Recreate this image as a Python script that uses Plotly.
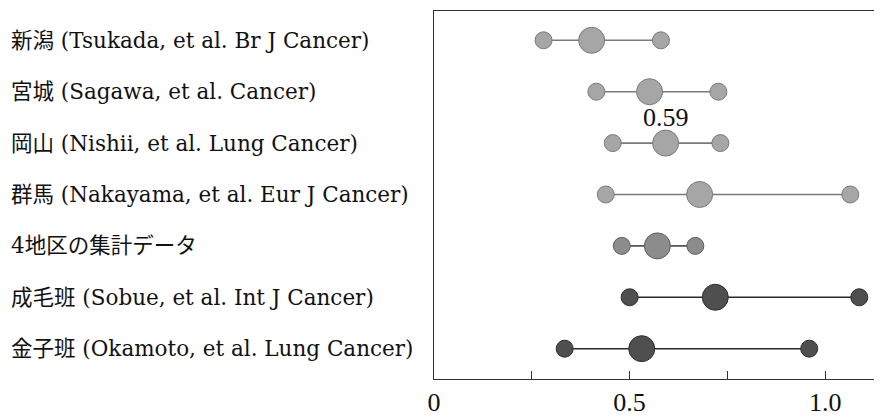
import plotly.graph_objects as go

labels = [
    "新潟 (Tsukada, et al. Br J Cancer)",
    "宮城 (Sagawa, et al. Cancer)",
    "岡山 (Nishii, et al. Lung Cancer)",
    "群馬 (Nakayama, et al. Eur J Cancer)",
    "4地区の集計データ",
    "成毛班 (Sobue, et al. Int J Cancer)",
    "金子班 (Okamoto, et al. Lung Cancer)",
]
lower = [0.28, 0.415, 0.457, 0.439, 0.48, 0.50, 0.334]
point = [0.403, 0.551, 0.592, 0.679, 0.571, 0.719, 0.531]
upper = [0.58, 0.727, 0.732, 1.064, 0.668, 1.087, 0.959]
fill_colors = ["#a6a6a6", "#a6a6a6", "#a6a6a6", "#a6a6a6", "#8c8c8c", "#4f4f4f", "#4f4f4f"]
edge_colors = ["#7a7a7a", "#7a7a7a", "#7a7a7a", "#7a7a7a", "#5e5e5e", "#2e2e2e", "#2e2e2e"]
line_colors = ["#7a7a7a", "#7a7a7a", "#7a7a7a", "#7a7a7a", "#555555", "#2a2a2a", "#2a2a2a"]
highlight_row = 2
highlight_text = "0.59"

tick_vals = [0, 0.25, 0.5, 0.75, 1.0]
tick_text = ["0", "", "0.5", "", "1.0"]

n = len(labels)
ys = [n - i for i in range(n)]

fig = go.Figure()
LABEL_FONT = "DejaVu Serif, Noto Sans CJK JP, serif"
NUM_FONT = "Liberation Serif, Times New Roman, serif"

for i in range(n):
    fig.add_trace(go.Scatter(
        x=[lower[i], upper[i]], y=[ys[i], ys[i]], mode="lines",
        line=dict(color=line_colors[i], width=1.6), showlegend=False, hoverinfo="skip"))
    fig.add_trace(go.Scatter(
        x=[lower[i], upper[i]], y=[ys[i], ys[i]], mode="markers",
        marker=dict(size=17, color=fill_colors[i], line=dict(color=edge_colors[i], width=1)),
        showlegend=False))
    fig.add_trace(go.Scatter(
        x=[point[i]], y=[ys[i]], mode="markers",
        marker=dict(size=26, color=fill_colors[i], line=dict(color=edge_colors[i], width=1)),
        showlegend=False))
    fig.add_annotation(
        x=-0.953, xref="paper", y=ys[i], yref="y", text=labels[i],
        showarrow=False, xanchor="left", yanchor="middle",
        font=dict(family=LABEL_FONT, size=21.5, color="#111111"))

fig.add_annotation(
    x=point[highlight_row], y=ys[highlight_row] + 0.5, text=highlight_text,
    showarrow=False, xanchor="center", yanchor="middle",
    font=dict(family=NUM_FONT, size=26, color="#111111"))

fig.update_xaxes(
    range=[0, 1.14], tickvals=tick_vals, ticktext=tick_text,
    ticks="inside", ticklen=8, tickcolor="#333333", tickwidth=1,
    showline=True, linecolor="#333333", linewidth=1, mirror=True,
    showgrid=False, zeroline=False,
    tickfont=dict(family=NUM_FONT, size=26, color="#111111"))
fig.update_yaxes(
    range=[0.41, 7.57], showticklabels=False, ticks="",
    showline=True, linecolor="#333333", linewidth=1, mirror=True,
    showgrid=False, zeroline=False)

fig.update_layout(
    width=874, height=410,
    margin=dict(l=426, r=1, t=3, b=31),
    paper_bgcolor="white", plot_bgcolor="white",
    showlegend=False)

fig.write_html("out.html")
